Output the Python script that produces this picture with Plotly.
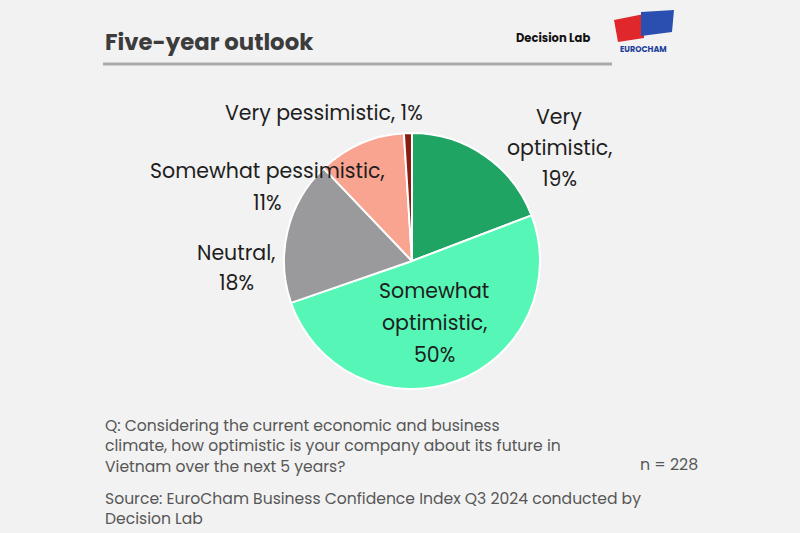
import plotly.graph_objects as go

categories = ["Very optimistic", "Somewhat optimistic", "Neutral", "Somewhat pessimistic", "Very pessimistic"]
values = [19, 50, 18, 11, 1]
colors = ["#1fa463", "#56f7b6", "#9a9a9c", "#f9a391", "#8a1c12"]
label_texts = ["Very<br>optimistic,<br>19%", "Somewhat<br>optimistic,<br>50%", "Neutral,<br>18%",
               "Somewhat pessimistic,<br>11%", "Very pessimistic, 1%"]
# (center x, first-line y, line spacing) in pixels
label_pos = [(559, 116, 31), (434, 290, 32), (236, 252, 30), (267, 170, 32), (324, 112, 30)]

question_lines = ["Q: Considering the current economic and business",
                  "climate, how optimistic is your company about its future in",
                  "Vietnam over the next 5 years?"]
source_lines = ["Source: EuroCham Business Confidence Index Q3 2024 conducted by", "Decision Lab"]

W, H = 800, 533
cx, cy, r = 412, 261, 128

fig = go.Figure()
fig.add_trace(go.Pie(
    labels=categories, values=values, sort=False, direction="clockwise", rotation=0,
    marker=dict(colors=colors, line=dict(color="white", width=2)),
    textinfo="none", hoverinfo="label+percent", showlegend=False,
    domain=dict(x=[(cx - r) / W, (cx + r) / W], y=[(H - cy - r) / H, (H - cy + r) / H]),
))

font_family = "Poppins, 'Open Sans', sans-serif"


def ann(x, y, text, size, color, xanchor="center", bold=False, align="center"):
    return dict(x=x / W, y=1 - y / H, xref="paper", yref="paper",
                text=f"<b>{text}</b>" if bold else text, showarrow=False, align=align,
                font=dict(family=font_family, size=size, color=color),
                xanchor=xanchor, yanchor="middle")


annotations = []
for t, (x, y, dy) in zip(label_texts, label_pos):
    for i, line in enumerate(t.split("<br>")):
        annotations.append(ann(x, y + i * dy, line, 20.5, "#1e1e1e"))

annotations.append(ann(103, 445.5, "<br>".join(question_lines), 15.6, "#575757", xanchor="left", align="left"))
annotations.append(ann(103, 508.5, "<br>".join(source_lines), 15.6, "#575757", xanchor="left", align="left"))
annotations.append(ann(700, 464, "n = 228", 15.8, "#575757", xanchor="right"))

annotations += [
    ann(103, 42, "Five-year outlook", 22.8, "#3c3c3c", xanchor="left", bold=True),
    ann(553, 38, "Decision Lab", 11.5, "#111", bold=True),
    ann(643, 50, "EUROCHAM", 8, "#1c3f9a", bold=True),
]

shapes = [
    dict(type="line", xref="paper", yref="paper", x0=103 / W, x1=612 / W, y0=1 - 64 / H, y1=1 - 64 / H,
         line=dict(color="#a9a9a9", width=3)),
    # EuroCham logo flags
    dict(type="path", xref="paper", yref="paper",
         path=f"M {614/W},{1-20/H} L {644/W},{1-14/H} L {644/W},{1-38/H} L {618/W},{1-42/H} Z",
         fillcolor="#e0282c", line=dict(width=0)),
    dict(type="path", xref="paper", yref="paper",
         path=f"M {641/W},{1-12/H} L {674/W},{1-10/H} L {672/W},{1-32/H} L {641/W},{1-36/H} Z",
         fillcolor="#2a4fb0", line=dict(width=0)),
]

fig.update_layout(
    width=W, height=H, margin=dict(l=0, r=0, t=0, b=0),
    paper_bgcolor="#f2f2f2", plot_bgcolor="#f2f2f2",
    annotations=annotations, shapes=shapes,
)
fig.write_html("out.html")
